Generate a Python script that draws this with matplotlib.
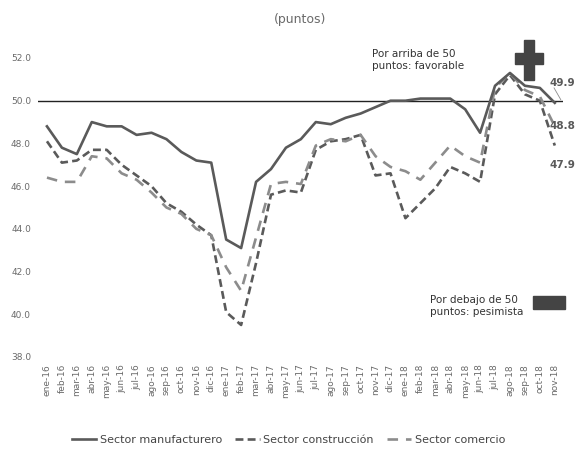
import matplotlib
matplotlib.use("Agg")
import matplotlib.pyplot as plt
from matplotlib.patches import Rectangle

# meses ene-16 .. nov-18
meses = ["ene", "feb", "mar", "abr", "may", "jun", "jul", "ago", "sep", "oct", "nov", "dic"]
etiquetas = [f"{m}-{a}" for a in ("16", "17", "18") for m in meses][:35]

manufacturero = [48.8, 47.8, 47.5, 49.0, 48.8, 48.8, 48.4, 48.5, 48.2, 47.6, 47.2, 47.1,
                 43.5, 43.1, 46.2, 46.8, 47.8, 48.2, 49.0, 48.9, 49.2, 49.4, 49.7, 50.0,
                 50.0, 50.1, 50.1, 50.1, 49.6, 48.5, 50.7, 51.3, 50.7, 50.6, 49.9]
construccion = [48.1, 47.1, 47.2, 47.7, 47.7, 47.0, 46.5, 46.0, 45.2, 44.8, 44.2, 43.7,
                40.1, 39.5, 42.4, 45.6, 45.8, 45.7, 47.7, 48.1, 48.2, 48.4, 46.5, 46.6,
                44.5, 45.2, 45.9, 46.9, 46.6, 46.2, 50.3, 51.2, 50.3, 50.0, 47.9]
comercio = [46.4, 46.2, 46.2, 47.4, 47.3, 46.6, 46.3, 45.7, 45.0, 44.7, 44.0, 43.7,
            42.2, 41.1, 43.6, 46.1, 46.2, 46.1, 47.9, 48.2, 48.1, 48.4, 47.4, 46.9,
            46.7, 46.3, 47.1, 47.9, 47.4, 47.1, 50.6, 51.3, 50.5, 50.2, 48.8]

y_ticks = [38, 40, 42, 44, 46, 48, 50, 52]

gris = "#5a5a5a"
gris_claro = "#8c8c8c"
gris_texto = "#6a6a6a"

fig = plt.figure(figsize=(5.77, 4.59), dpi=100)
ax = fig.add_axes([38 / 577, 102 / 459, 525 / 577, 299 / 459])

x = list(range(len(etiquetas)))

# linea de referencia en 50
ax.axhline(50, color="#222222", lw=1.0, zorder=1)

ax.plot(x, manufacturero, color=gris, lw=1.9, label="Sector manufacturero", zorder=3)
ax.plot(x, construccion, color=gris, lw=1.9, ls=(0, (3, 1.6)),
        label="Sector construcción", zorder=2)
ax.plot(x, comercio, color=gris_claro, lw=1.9, ls=(0, (4, 3)),
        label="Sector comercio", zorder=2)

ax.set_xlim(-0.6, 34.55)
ax.set_ylim(38, 52)
ax.set_yticks(y_ticks)
ax.set_yticklabels([f"{v:.1f}" for v in y_ticks], fontsize=6.5, color=gris_texto)
ax.set_xticks(x)
ax.set_xticklabels(etiquetas, rotation=90, fontsize=6.5, color=gris_texto)
ax.tick_params(length=0, pad=5)
for s in ax.spines.values():
    s.set_visible(False)

# valores finales
ax.text(33.65, 50.85, f"{manufacturero[-1]:.1f}", fontsize=7.5, color=gris,
        fontweight="bold", va="center", ha="left")
ax.plot([33.95, 34.4], [50.6, 50.05], color=gris_claro, lw=0.6)
ax.text(33.65, comercio[-1], f"{comercio[-1]:.1f}", fontsize=7.5, color=gris,
        fontweight="bold", va="center", ha="left")
ax.text(33.65, construccion[-1] - 0.9, f"{construccion[-1]:.1f}", fontsize=7.5, color=gris,
        fontweight="bold", va="center", ha="left")

# textos de anotacion
fig.text(300 / 577, 1 - 20 / 459, "(puntos)", fontsize=9, color=gris_texto,
         ha="center", va="center")
fig.text(372 / 577, 1 - 60 / 459, "Por arriba de 50\npuntos: favorable", fontsize=7.5,
         color="#333333", ha="left", va="center", linespacing=1.3)
fig.text(430 / 577, 1 - 306 / 459, "Por debajo de 50\npuntos: pesimista", fontsize=7.5,
         color="#333333", ha="left", va="center", linespacing=1.3)

# signo mas y rectangulo
oscuro = "#444444"
fig.patches.append(Rectangle((524 / 577, 1 - 80 / 459), 10 / 577, 40 / 459,
                             transform=fig.transFigure, color=oscuro))
fig.patches.append(Rectangle((515 / 577, 1 - 64 / 459), 28 / 577, 11 / 459,
                             transform=fig.transFigure, color=oscuro))
fig.patches.append(Rectangle((533 / 577, 1 - 309 / 459), 32 / 577, 13 / 459,
                             transform=fig.transFigure, color=oscuro))

fig.legend(loc="center", bbox_to_anchor=(0.5, 1 - 440 / 459), ncol=3, frameon=False,
           fontsize=8, labelcolor="#444444", handlelength=2.2, columnspacing=1.2,
           handletextpad=0.3)

fig.savefig("out.png", dpi=100)
